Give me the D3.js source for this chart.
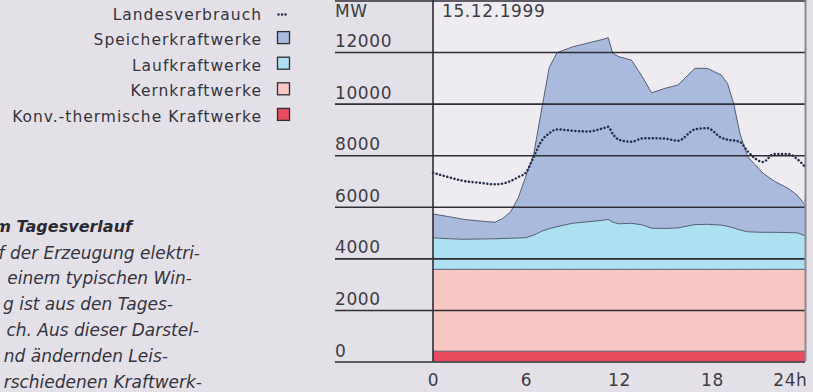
<!DOCTYPE html>
<html>
<head>
<meta charset="utf-8">
<script src="https://cdn.jsdelivr.net/npm/d3@7"></script>
<style>
  html, body { margin: 0; padding: 0; background: #e4e0e8; }
  svg { display: block; }
  text { font-family: "DejaVu Sans", sans-serif; }
</style>
</head>
<body>
<svg id="chart" width="813" height="392"></svg>
<script>
// Hours of the day at which the load curves were sampled
const hours = [0, 1, 2, 3, 4, 4.5, 5, 5.5, 6, 6.5, 7, 7.5, 8, 9, 10, 11, 11.3, 11.6, 12, 12.8,
               13.5, 14.1, 15, 15.8, 16.9, 17.7, 18.6, 19, 19.4, 19.8, 20.3, 21.3, 22, 22.9, 23.5, 24];

// Output per plant type in MW (stacked bottom to top)
const konvThermisch = [400, 400, 400, 400, 400, 400, 400, 400, 400, 400, 400, 400, 400, 400, 400, 400, 400, 400,
                       400, 400, 400, 400, 400, 400, 400, 400, 400, 400, 400, 400, 400, 400, 400, 400, 400, 400];
const kernkraft = [3175, 3175, 3175, 3175, 3175, 3175, 3175, 3175, 3175, 3175, 3175, 3175, 3175, 3175, 3175, 3175, 3175, 3175,
                   3175, 3175, 3175, 3175, 3175, 3175, 3175, 3175, 3175, 3175, 3175, 3175, 3175, 3175, 3175, 3175, 3175, 3175];
const laufkraft = [1225, 1185, 1165, 1175, 1185, 1195, 1205, 1215, 1225, 1325, 1475, 1575, 1655, 1785, 1845, 1905, 1935, 1825,
                   1765, 1785, 1725, 1595, 1585, 1605, 1735, 1745, 1715, 1665, 1605, 1525, 1455, 1435, 1435, 1425, 1415, 1305];
const speicherkraft = [920, 860, 770, 700, 640, 780, 1020, 1560, 2400, 3150, 4700, 6250, 6750, 6840, 6930, 7020, 7050, 6550,
                       6480, 6330, 5750, 5250, 5440, 5540, 6060, 6050, 5820, 5540, 4820, 3750, 2910, 2290, 1990, 1720, 1460, 1190];

// National consumption (dotted line), MW
const landesverbrauch = [7320, 7150, 7000, 6930, 6870, 6900, 7000, 7150, 7336, 7940, 8550, 8850, 9000, 8950, 8920, 9050, 9100, 8820,
                         8600, 8520, 8650, 8660, 8640, 8560, 9000, 9050, 8680, 8600, 8570, 8520, 8150, 7740, 8050, 8050, 7850, 7550];

const yTicks = [0, 2000, 4000, 6000, 8000, 10000, 12000, 14000];
const yTickLabels = ["0", "2000", "4000", "6000", "8000", "10000", "12000", ""];
const xTicks = [0, 6, 12, 18, 24];
const xTickLabels = ["0", "6", "12", "18", "24h"];

const seriesKeys = ["konv", "kern", "lauf", "speicher"];
const seriesColors = { konv: "#e64b5d", kern: "#f6c7c3", lauf: "#ade0f0", speicher: "#a9badd" };

const legendItems = [
  { label: "Landesverbrauch", type: "dots" },
  { label: "Speicherkraftwerke", type: "speicher" },
  { label: "Laufkraftwerke", type: "lauf" },
  { label: "Kernkraftwerke", type: "kern" },
  { label: "Konv.-thermische Kraftwerke", type: "konv" }
];

const sideHeading = "m Tagesverlauf";
const sideLines = [
  "f der Erzeugung elektri-",
  "einem typischen Win-",
  "g ist aus den Tages-",
  "ch. Aus dieser Darstel-",
  "nd ändernden Leis-",
  "rschiedenen Kraftwerk-"
];
const sideLineEnds = [200, 192, 173, 199, 168, 202];

// Table for the stack
const table = hours.map((h, i) => ({
  hour: h,
  konv: konvThermisch[i],
  kern: kernkraft[i],
  lauf: laufkraft[i],
  speicher: speicherkraft[i]
}));

const svg = d3.select("#chart");

const x = d3.scaleLinear().domain([0, 24]).range([433, 805]);
const y = d3.scaleLinear().domain([0, 14000]).range([361.5, 0.5]);

// Plot background
svg.append("rect")
  .attr("x", x(0)).attr("y", y(14000))
  .attr("width", x(24) - x(0)).attr("height", y(0) - y(14000))
  .attr("fill", "#efecf1");

// Stacked areas
const stack = d3.stack().keys(seriesKeys);
const layers = stack(table);

const area = d3.area()
  .x(d => x(d.data.hour))
  .y0(d => y(d[0]))
  .y1(d => y(d[1]));

const topLine = d3.line()
  .x(d => x(d.data.hour))
  .y(d => y(d[1]));

svg.append("g").selectAll("path.area")
  .data(layers)
  .join("path")
  .attr("class", "area")
  .attr("fill", d => seriesColors[d.key])
  .attr("d", area);

svg.append("g").selectAll("path.edge")
  .data(layers)
  .join("path")
  .attr("class", "edge")
  .attr("fill", "none")
  .attr("stroke", "#4a5268")
  .attr("stroke-width", 0.9)
  .attr("d", topLine);

// Horizontal grid lines drawn over the areas
const yAxis = d3.axisLeft(y).tickValues(yTicks).tickSize(x(24) - 335).tickFormat("");
const yAxisG = svg.append("g")
  .attr("transform", `translate(${x(24)},0)`)
  .call(yAxis);
yAxisG.select(".domain").remove();
yAxisG.selectAll(".tick line").attr("stroke", "#2e2e36").attr("stroke-width", 1.6);

// Y tick labels sit above their grid lines
svg.append("g").selectAll("text.ylab")
  .data(yTicks.map((v, i) => ({ v, label: yTickLabels[i] })).filter(d => d.label))
  .join("text")
  .attr("class", "ylab")
  .attr("x", 335)
  .attr("y", d => y(d.v) - 5)
  .attr("font-size", 17)
  .attr("letter-spacing", 0.6)
  .attr("fill", "#3c3c44")
  .text(d => d.label);

svg.append("text")
  .attr("x", 335).attr("y", 17)
  .attr("font-size", 17).attr("letter-spacing", 0.6)
  .attr("fill", "#3c3c44")
  .text("MW");

svg.append("text")
  .attr("x", 442).attr("y", 17)
  .attr("font-size", 17).attr("letter-spacing", 0.6)
  .attr("fill", "#3c3c44")
  .text("15.12.1999");

// Left vertical axis and right border
svg.append("line")
  .attr("x1", x(0)).attr("x2", x(0))
  .attr("y1", 0).attr("y2", y(0))
  .attr("stroke", "#2e2e36").attr("stroke-width", 1.6);
svg.append("line")
  .attr("x1", x(24) + 0.5).attr("x2", x(24) + 0.5)
  .attr("y1", 0).attr("y2", y(0))
  .attr("stroke", "#8c8a90").attr("stroke-width", 2);

// National consumption, dotted
const consumptionLine = d3.line()
  .x((d, i) => x(hours[i]))
  .y(d => y(d))
  .curve(d3.curveMonotoneX);

svg.append("path")
  .datum(landesverbrauch)
  .attr("fill", "none")
  .attr("stroke", "#26304a")
  .attr("stroke-width", 2.5)
  .attr("stroke-linecap", "round")
  .attr("stroke-dasharray", "0.1 3.6")
  .attr("d", consumptionLine);

// X axis labels
const xAxis = d3.axisBottom(x).tickValues(xTicks).tickSize(0)
  .tickFormat((d, i) => xTickLabels[i]);
const xAxisG = svg.append("g")
  .attr("transform", `translate(0,${y(0)})`)
  .call(xAxis);
xAxisG.select(".domain").remove();
xAxisG.selectAll(".tick text")
  .attr("font-family", "DejaVu Sans, sans-serif")
  .attr("font-size", 17)
  .attr("letter-spacing", 0.6)
  .attr("fill", "#3c3c44")
  .attr("dy", 0)
  .attr("y", 24);
xAxisG.selectAll(".tick").filter(d => d === 24).select("text")
  .attr("text-anchor", "end")
  .attr("dx", 2);

// Legend
const legend = svg.append("g");
legendItems.forEach((item, i) => {
  const base = 19.5 + i * 25.6;
  legend.append("text")
    .attr("x", 262).attr("y", base)
    .attr("text-anchor", "end")
    .attr("font-size", 15.5)
    .attr("letter-spacing", 1.0)
    .attr("fill", "#34343c")
    .text(item.label);
  if (item.type === "dots") {
    legend.append("line")
      .attr("x1", 278.5).attr("x2", 289)
      .attr("y1", base - 5).attr("y2", base - 5)
      .attr("stroke", "#26304a").attr("stroke-width", 2.4)
      .attr("stroke-linecap", "round")
      .attr("stroke-dasharray", "0.1 3.4");
  } else {
    legend.append("rect")
      .attr("x", 277.5).attr("y", base - 13.5)
      .attr("width", 12).attr("height", 12)
      .attr("fill", seriesColors[item.type])
      .attr("stroke", "#2e2e36").attr("stroke-width", 1.3);
  }
});

// Side text
svg.append("text")
  .attr("x", 132).attr("y", 232)
  .attr("text-anchor", "end")
  .attr("font-size", 16)
  .attr("font-weight", "bold")
  .attr("font-style", "italic")
  .attr("fill", "#2a2a32")
  .text(sideHeading);

svg.append("g").selectAll("text.side")
  .data(sideLines)
  .join("text")
  .attr("class", "side")
  .attr("x", (d, i) => sideLineEnds[i])
  .attr("y", (d, i) => 258.5 + i * 25.8)
  .attr("text-anchor", "end")
  .attr("font-size", 17)
  .attr("font-style", "italic")
  .attr("fill", "#34343c")
  .text(d => d);
</script>
</body>
</html>
